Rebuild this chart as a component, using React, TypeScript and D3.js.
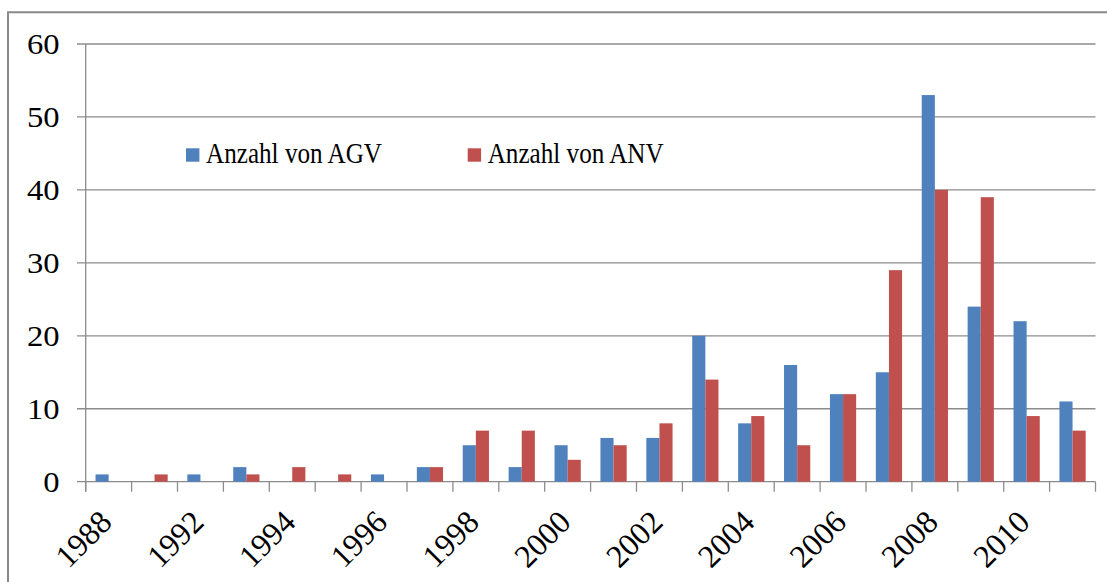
// Bar chart: Anzahl von AGV / ANV per year (Excel-style grouped columns)
import React from 'react';
import * as d3 from 'd3';

const years = ['1988', '1990', '1992', '1993', '1994', '1995', '1996', '1997', '1998', '1999', '2000',
  '2001', '2002', '2003', '2004', '2005', '2006', '2007', '2008', '2009', '2010', '2011'];
const agv = [1, 0, 1, 2, 0, 0, 1, 2, 5, 2, 5, 6, 6, 20, 8, 16, 12, 15, 53, 24, 22, 11];
const anv = [0, 1, 0, 1, 2, 1, 0, 2, 7, 7, 3, 5, 8, 14, 9, 5, 12, 29, 40, 39, 9, 7];
const seriesNames = ['Anzahl von AGV', 'Anzahl von ANV'];
const seriesColors = ['#4F81BD', '#C0504D'];
const yTicks = [0, 10, 20, 30, 40, 50, 60];

const App = () => {
  const width = 1107, height = 582;
  const left = 85.7, right = 1095.5, top = 44, bottom = 481.7;
  const font = '"Liberation Serif", "Times New Roman", serif';
  const gridColor = '#8c8c8c';

  // excel gap width 150% -> group takes 2 of 3.5 bar widths
  const xScale = d3.scaleBand<string>()
    .domain(years)
    .range([left, right])
    .paddingInner(1.5 / 3.5)
    .paddingOuter(0.75 / 3.5);
  const step = xScale.step();
  const inner = d3.scaleBand<number>().domain([0, 1]).range([0, xScale.bandwidth()]);

  const yScale = d3.scaleLinear().domain([0, 60]).range([bottom, top]);

  // category boundaries for tick marks
  const boundary = (i: number) => left + i * step;
  const tickIdx = d3.range(years.length + 1);

  return (
    <svg width={width} height={height} style={{ position: 'fixed', left: 0, top: 0, background: '#fff' }}
      fontFamily={font}>
      {/* outer frame (only top and left visible) */}
      <path d={`M8,${height + 5}V12.3H${width + 5}`} fill="none" stroke="#8a8a8a" strokeWidth={2} />

      {/* horizontal gridlines + y ticks */}
      {yTicks.map(t => (
        <g key={t}>
          <line x1={77} x2={right} y1={yScale(t)} y2={yScale(t)} stroke={gridColor} strokeWidth={1.3} />
          <text x={59.5} y={yScale(t)} dy="0.34em" textAnchor="end" fontSize={29} fill="#000"
            textLength={String(t).length * 16.3} lengthAdjust="spacingAndGlyphs">{t}</text>
        </g>
      ))}

      {/* y axis line */}
      <line x1={left} x2={left} y1={top} y2={bottom + 10} stroke={gridColor} strokeWidth={1.3} />

      {/* x tick marks */}
      {tickIdx.map(i => (
        <line key={i} x1={boundary(i)} x2={boundary(i)} y1={bottom} y2={bottom + 10} stroke={gridColor} strokeWidth={1.3} />
      ))}

      {/* bars */}
      {years.map((yr, i) => [agv[i], anv[i]].map((v, s) => v > 0 && (
        <rect key={`${yr}-${s}`} x={(xScale(yr) as number) + (inner(s) as number)} y={yScale(v)}
          width={inner.bandwidth()} height={bottom - yScale(v)} fill={seriesColors[s]} />
      )))}

      {/* x labels, every other category */}
      {years.map((yr, i) => i % 2 === 0 && (
        <text key={yr} transform={`translate(${(xScale(yr) as number) + xScale.bandwidth() / 2 + 5}, 524) rotate(-45)`}
          textAnchor="end" fontSize={32} fill="#000">{yr}</text>
      ))}

      {/* legend */}
      {seriesNames.map((name, s) => {
        const lx = s === 0 ? 186 : 467.7;
        return (
          <g key={name}>
            <rect x={lx} y={148.3} width={13.4} height={13.4} fill={seriesColors[s]} />
            <text x={lx + 20} y={162.5} fontSize={30} fill="#000"
              textLength={176} lengthAdjust="spacingAndGlyphs">{name}</text>
          </g>
        );
      })}
    </svg>
  );
};

export default App;
